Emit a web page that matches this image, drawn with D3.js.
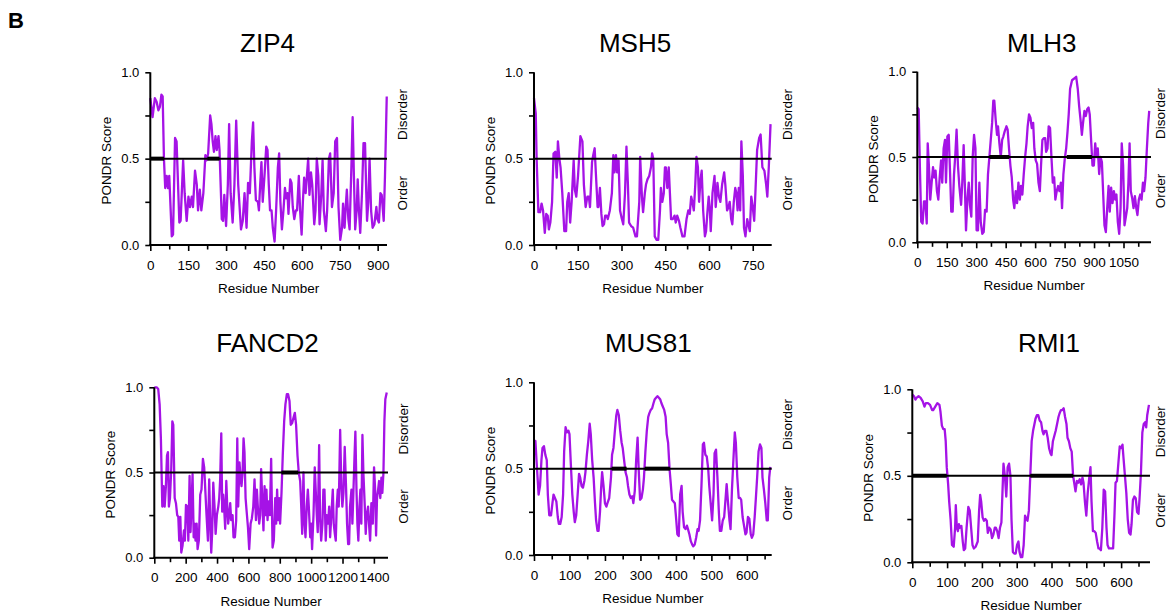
<!DOCTYPE html>
<html><head><meta charset="utf-8">
<script src="https://cdn.jsdelivr.net/npm/d3@7"></script>
<style>
html,body{margin:0;padding:0;background:#fff;}
svg{display:block;font-family:"Liberation Sans",Arial,sans-serif;}
</style></head>
<body>
<svg id="chart" width="1170" height="615"></svg>
<script>
// ---------------- DATA ----------------
const proteinNames = ["ZIP4", "MSH5", "MLH3", "FANCD2", "MUS81", "RMI1"];
const proteinLengths = [937, 815, 1190, 1490, 670, 683];
const xLabelStep = [150, 150, 150, 200, 100, 100];
const xMinorStep = [75, 75, 75, 100, 50, 50];
const yTickValues = [0, 0.25, 0.5, 0.75, 1.0];
const yTickLabels = ["0.0", "", "0.5", "", "1.0"];
const threshold = 0.5;

const zip4 = [[0,.85],[9,.74],[18,.85],[25,.83],[32,.78],[38,.80],[44,.87],[49,.86],[54,.50],[59,.33],[65,.40],[70,.33],[75,.40],[85,.05],[90,.06],[98,.62],[104,.60],[115,.13],[120,.14],[130,.49],[136,.30],[144,.14],[151,.28],[157,.22],[164,.28],[169,.22],[177,.43],[184,.35],[189,.20],[196,.32],[202,.20],[210,.30],[218,.52],[223,.49],[229,.53],[237,.75],[242,.70],[247,.60],[252,.54],[258,.63],[263,.55],[270,.63],[274,.55],[283,.15],[288,.14],[293,.29],[300,.11],[307,.35],[312,.70],[318,.30],[326,.13],[333,.35],[340,.72],[348,.35],[359,.09],[366,.14],[373,.30],[381,.10],[387,.36],[394,.30],[402,.60],[407,.71],[412,.45],[418,.26],[426,.25],[430,.20],[435,.35],[440,.48],[445,.25],[452,.40],[459,.57],[464,.55],[469,.35],[474,.20],[480,.20],[485,.10],[492,.02],[498,.20],[505,.45],[510,.53],[515,.25],[521,.09],[527,.20],[533,.33],[538,.27],[543,.30],[547,.18],[554,.38],[559,.36],[564,.22],[570,.15],[576,.20],[581,.20],[588,.40],[593,.20],[599,.06],[604,.25],[609,.39],[615,.30],[620,.40],[625,.50],[630,.29],[636,.42],[641,.35],[649,.12],[654,.20],[659,.50],[665,.40],[670,.12],[677,.30],[682,.49],[687,.20],[695,.08],[700,.20],[707,.50],[712,.53],[719,.22],[726,.30],[732,.60],[739,.62],[745,.22],[752,.03],[759,.10],[763,.24],[769,.10],[774,.23],[778,.32],[784,.15],[789,.09],[796,.45],[801,.74],[806,.40],[811,.09],[817,.20],[821,.38],[826,.20],[831,.07],[838,.30],[844,.59],[850,.59],[855,.30],[858,.14],[863,.25],[868,.50],[874,.20],[880,.10],[887,.12],[895,.22],[899,.15],[905,.13],[911,.30],[916,.29],[924,.14],[929,.40],[936,.86]];

const msh5 = [[0,.85],[6,.76],[9,.50],[15,.19],[21,.19],[26,.24],[31,.20],[37,.07],[42,.18],[47,.17],[51,.09],[56,.13],[62,.25],[67,.53],[73,.54],[78,.39],[82,.60],[87,.50],[91,.45],[97,.30],[104,.08],[110,.08],[114,.25],[119,.30],[124,.13],[129,.25],[136,.49],[140,.32],[145,.28],[151,.40],[159,.63],[166,.60],[171,.35],[177,.22],[183,.28],[188,.28],[192,.22],[199,.48],[203,.52],[208,.56],[212,.42],[218,.22],[221,.22],[226,.33],[231,.18],[235,.11],[240,.12],[244,.17],[249,.17],[253,.15],[260,.20],[267,.30],[272,.52],[276,.42],[281,.52],[285,.42],[290,.49],[295,.20],[300,.16],[306,.12],[312,.30],[317,.57],[322,.35],[326,.13],[333,.11],[340,.10],[348,.05],[353,.05],[361,.25],[364,.51],[370,.28],[374,.19],[380,.30],[384,.35],[389,.38],[395,.40],[401,.45],[405,.53],[409,.50],[414,.05],[420,.03],[426,.03],[432,.20],[435,.33],[440,.25],[445,.30],[449,.45],[452,.45],[457,.33],[462,.45],[466,.30],[470,.15],[476,.15],[482,.17],[486,.13],[491,.17],[497,.14],[502,.10],[509,.05],[516,.05],[523,.15],[529,.20],[534,.18],[539,.28],[543,.25],[548,.20],[553,.35],[557,.51],[562,.45],[566,.25],[571,.38],[575,.43],[580,.20],[586,.05],[590,.08],[595,.20],[599,.28],[603,.20],[606,.08],[612,.30],[619,.40],[623,.22],[629,.36],[634,.28],[639,.25],[645,.35],[652,.42],[656,.35],[662,.20],[667,.22],[671,.25],[676,.15],[680,.12],[685,.25],[690,.33],[694,.30],[698,.20],[702,.33],[707,.20],[711,.60],[716,.40],[720,.10],[725,.05],[731,.15],[735,.12],[740,.08],[745,.28],[750,.22],[755,.14],[759,.30],[765,.55],[772,.62],[777,.64],[783,.45],[790,.43],[796,.35],[800,.28],[805,.45],[811,.70]];

const mlh3 = [[0,.79],[7,.78],[14,.40],[20,.12],[27,.11],[34,.24],[41,.24],[48,.11],[53,.58],[59,.45],[66,.25],[73,.35],[80,.44],[87,.38],[93,.42],[100,.30],[107,.25],[114,.38],[121,.48],[127,.35],[134,.55],[141,.60],[146,.35],[153,.62],[160,.63],[167,.40],[173,.18],[180,.18],[187,.40],[194,.52],[200,.66],[207,.45],[214,.33],[223,.22],[229,.35],[236,.57],[243,.30],[248,.07],[255,.25],[262,.35],[268,.22],[275,.15],[282,.50],[289,.63],[296,.55],[302,.07],[309,.07],[316,.35],[323,.12],[331,.05],[338,.06],[345,.19],[353,.18],[360,.40],[367,.50],[374,.60],[381,.70],[387,.83],[392,.83],[399,.72],[406,.63],[411,.68],[418,.58],[425,.50],[432,.60],[438,.62],[445,.65],[454,.68],[460,.66],[467,.55],[474,.45],[481,.38],[488,.25],[494,.20],[501,.30],[508,.23],[515,.35],[522,.25],[528,.33],[535,.28],[542,.40],[549,.50],[556,.58],[562,.68],[569,.75],[576,.73],[583,.67],[590,.70],[596,.55],[603,.48],[610,.46],[617,.35],[624,.30],[630,.45],[637,.60],[644,.61],[651,.61],[656,.53],[663,.55],[669,.68],[676,.67],[683,.50],[690,.35],[697,.38],[703,.25],[710,.30],[717,.33],[724,.30],[731,.35],[737,.20],[744,.40],[751,.49],[758,.55],[765,.65],[771,.75],[778,.90],[788,.95],[799,.96],[809,.97],[817,.90],[824,.80],[831,.72],[838,.63],[844,.70],[851,.77],[858,.74],[865,.78],[872,.79],[878,.75],[885,.60],[892,.45],[899,.45],[906,.58],[912,.50],[919,.55],[926,.40],[933,.50],[940,.47],[946,.30],[953,.10],[960,.06],[967,.20],[974,.33],[980,.18],[987,.32],[994,.23],[1001,.30],[1008,.25],[1014,.28],[1021,.12],[1028,.05],[1035,.20],[1041,.58],[1048,.45],[1055,.10],[1062,.15],[1069,.20],[1075,.35],[1081,.58],[1087,.30],[1094,.26],[1101,.20],[1108,.27],[1115,.20],[1121,.16],[1128,.25],[1135,.28],[1142,.25],[1149,.35],[1155,.30],[1162,.38],[1169,.55],[1176,.70],[1181,.77]];

const fancd2 = [[0,1.0],[15,1.0],[25,.99],[34,.90],[42,.70],[51,.30],[59,.42],[66,.30],[74,.42],[81,.60],[87,.62],[93,.30],[100,.35],[108,.52],[115,.80],[121,.78],[130,.35],[138,.32],[146,.25],[153,.24],[159,.10],[166,.24],[172,.03],[180,.07],[189,.16],[195,.10],[202,.31],[210,.30],[217,.10],[225,.48],[231,.15],[238,.33],[244,.49],[251,.12],[257,.20],[263,.10],[270,.20],[276,.05],[284,.10],[293,.37],[301,.40],[310,.58],[318,.53],[325,.40],[333,.25],[342,.10],[350,.46],[357,.20],[363,.03],[369,.15],[376,.44],[384,.30],[391,.14],[399,.25],[408,.30],[414,.35],[420,.46],[427,.73],[433,.27],[439,.37],[446,.28],[452,.17],[459,.45],[465,.30],[471,.20],[478,.26],[484,.32],[490,.22],[499,.25],[505,.12],[514,.12],[522,.22],[529,.70],[535,.30],[543,.56],[550,.47],[556,.42],[563,.50],[569,.70],[575,.62],[582,.35],[588,.28],[597,.18],[605,.05],[614,.20],[622,.23],[631,.30],[639,.46],[648,.22],[654,.40],[660,.30],[669,.20],[675,.25],[681,.52],[690,.30],[696,.16],[703,.42],[709,.25],[715,.40],[722,.22],[728,.33],[737,.25],[745,.58],[754,.06],[762,.10],[771,.35],[777,.20],[783,.40],[790,.22],[796,.35],[802,.20],[811,.38],[819,.60],[828,.80],[836,.90],[845,.96],[853,.96],[862,.92],[870,.78],[879,.79],[887,.82],[896,.85],[904,.78],[913,.60],[921,.50],[930,.45],[936,.32],[943,.14],[951,.50],[957,.22],[964,.12],[972,.30],[979,.40],[985,.30],[994,.12],[1000,.20],[1006,.05],[1015,.25],[1023,.53],[1030,.38],[1036,.25],[1042,.15],[1051,.66],[1057,.23],[1064,.10],[1072,.20],[1078,.40],[1085,.40],[1093,.10],[1100,.25],[1108,.20],[1115,.30],[1121,.12],[1129,.25],[1138,.40],[1144,.20],[1151,.14],[1157,.10],[1163,.30],[1170,.40],[1176,.30],[1185,.75],[1193,.40],[1199,.30],[1206,.38],[1214,.65],[1223,.40],[1229,.20],[1236,.08],[1242,.08],[1248,.30],[1257,.40],[1263,.20],[1270,.40],[1276,.58],[1282,.74],[1289,.40],[1295,.20],[1301,.10],[1308,.30],[1314,.40],[1320,.20],[1327,.72],[1333,.50],[1342,.30],[1348,.14],[1354,.25],[1363,.30],[1369,.20],[1376,.10],[1384,.32],[1393,.20],[1401,.53],[1408,.40],[1414,.13],[1420,.35],[1427,.40],[1433,.45],[1441,.35],[1448,.47],[1454,.38],[1461,.50],[1467,.80],[1473,.93],[1482,.97]];

const mus81 = [[0,.66],[4,.66],[7,.55],[10,.45],[13,.35],[17,.40],[21,.55],[24,.62],[28,.63],[32,.58],[36,.55],[39,.35],[43,.23],[48,.23],[52,.30],[55,.35],[59,.33],[63,.31],[67,.22],[70,.18],[74,.18],[78,.22],[82,.35],[85,.60],[89,.74],[93,.71],[97,.72],[100,.70],[104,.52],[108,.35],[112,.25],[115,.19],[119,.23],[123,.35],[127,.47],[130,.45],[134,.40],[138,.39],[142,.43],[145,.48],[149,.58],[153,.66],[157,.76],[160,.70],[164,.55],[168,.45],[172,.30],[175,.20],[179,.14],[182,.14],[186,.25],[189,.38],[192,.48],[196,.40],[200,.30],[204,.28],[207,.30],[212,.33],[217,.45],[220,.58],[224,.62],[228,.72],[232,.81],[235,.84],[239,.81],[243,.72],[247,.65],[250,.62],[254,.55],[258,.48],[262,.45],[265,.40],[269,.35],[273,.33],[277,.34],[280,.30],[284,.37],[288,.55],[292,.68],[295,.50],[299,.32],[303,.33],[307,.38],[310,.45],[314,.60],[318,.72],[322,.80],[325,.82],[329,.84],[333,.85],[337,.88],[340,.90],[344,.91],[348,.92],[352,.91],[356,.90],[359,.88],[363,.86],[367,.84],[371,.80],[374,.70],[378,.65],[382,.50],[386,.40],[389,.32],[393,.31],[397,.30],[401,.20],[404,.12],[408,.11],[412,.35],[416,.40],[419,.25],[423,.16],[427,.15],[431,.17],[434,.15],[438,.12],[442,.08],[446,.06],[449,.05],[453,.06],[457,.10],[461,.15],[464,.14],[468,.20],[472,.40],[476,.64],[479,.65],[483,.58],[487,.57],[491,.50],[494,.40],[498,.30],[502,.20],[506,.35],[509,.59],[513,.61],[517,.45],[521,.25],[524,.14],[528,.14],[532,.20],[536,.22],[539,.30],[543,.41],[547,.30],[551,.20],[554,.15],[558,.38],[562,.55],[566,.71],[569,.65],[573,.45],[577,.33],[581,.33],[584,.32],[588,.22],[592,.17],[596,.12],[599,.13],[603,.22],[607,.21],[611,.12],[614,.10],[618,.12],[622,.22],[626,.35],[629,.45],[633,.60],[637,.64],[641,.62],[644,.45],[648,.38],[652,.30],[656,.20],[659,.20],[663,.45],[666,.51]];

const rmi1 = [[0,.97],[5,.96],[9,.94],[12,.95],[18,.96],[24,.95],[30,.93],[35,.90],[39,.92],[45,.92],[51,.91],[57,.88],[60,.88],[66,.90],[72,.92],[78,.91],[81,.87],[85,.79],[89,.77],[93,.77],[96,.70],[99,.55],[103,.45],[106,.35],[110,.25],[114,.10],[119,.09],[123,.20],[125,.33],[128,.20],[131,.18],[134,.22],[137,.20],[141,.21],[145,.12],[148,.07],[152,.08],[156,.20],[161,.32],[165,.30],[169,.20],[173,.10],[177,.08],[182,.09],[188,.12],[192,.30],[195,.39],[198,.35],[202,.26],[206,.24],[210,.25],[214,.24],[217,.17],[221,.20],[225,.19],[229,.14],[233,.16],[237,.20],[240,.20],[244,.18],[248,.14],[252,.20],[256,.23],[259,.40],[262,.57],[266,.50],[270,.38],[274,.55],[278,.57],[282,.50],[285,.25],[289,.06],[293,.05],[297,.05],[301,.10],[305,.12],[308,.06],[312,.03],[316,.03],[320,.10],[324,.27],[328,.25],[331,.24],[335,.30],[339,.50],[343,.70],[347,.76],[351,.80],[354,.83],[358,.85],[362,.85],[366,.82],[370,.81],[374,.76],[377,.74],[381,.76],[385,.76],[389,.72],[393,.66],[397,.63],[400,.62],[404,.70],[408,.73],[412,.76],[416,.80],[420,.84],[423,.86],[427,.88],[431,.88],[435,.89],[439,.84],[443,.80],[446,.72],[450,.70],[454,.66],[458,.64],[462,.50],[466,.45],[469,.41],[473,.47],[477,.46],[481,.48],[485,.45],[489,.49],[492,.46],[496,.35],[500,.27],[504,.40],[508,.48],[512,.55],[515,.35],[519,.18],[523,.18],[527,.17],[531,.12],[535,.08],[538,.08],[542,.07],[546,.20],[550,.42],[554,.41],[558,.20],[561,.10],[565,.08],[569,.08],[573,.08],[577,.08],[581,.28],[584,.46],[588,.47],[592,.57],[596,.67],[600,.66],[604,.68],[607,.60],[611,.50],[615,.40],[619,.25],[623,.17],[627,.16],[630,.22],[634,.36],[638,.38],[642,.37],[646,.29],[650,.28],[653,.37],[657,.52],[661,.75],[665,.80],[669,.81],[672,.78],[675,.85],[680,.91]];

// long predicted disordered regions (thick bars on the 0.5 line)
const zip4Regions = [[0, 54], [226, 274]];
const msh5Regions = [];
const mlh3Regions = [[367, 469], [761, 889]];
const fancd2Regions = [[811, 917]];
const mus81Regions = [[219, 261], [312, 383]];
const rmi1Regions = [[0, 99], [339, 462]];

const seriesList = [zip4, msh5, mlh3, fancd2, mus81, rmi1];
const regionList = [zip4Regions, msh5Regions, mlh3Regions, fancd2Regions, mus81Regions, rmi1Regions];

// ---------------- LAYOUT ----------------
const panels = [
  {left:150.3, right:387,  top:72.3,  bottom:245,   titleX:267.5, titleY:52},
  {left:534,   right:771.7,top:72.3,  bottom:245,   titleX:635,   titleY:52},
  {left:917.3, right:1151, top:71.7,  bottom:242.3, titleX:1041.7,titleY:52},
  {left:154.3, right:388,  top:387.3, bottom:557.7, titleX:267.5, titleY:352},
  {left:534,   right:771.7,top:382.3, bottom:555,   titleX:648.3, titleY:352},
  {left:912.3, right:1150, top:389.3, bottom:562.3, titleX:1049,  titleY:352}
];
const lineColor = "#a513e6";
const FONT = '"Liberation Sans",Arial,sans-serif';

const svg = d3.select("#chart");

svg.append("text").attr("x", 8).attr("y", 28)
  .attr("font-size", 22).attr("font-weight", "bold").attr("fill", "#000").text("B");

panels.forEach((p, i) => {
  const g = svg.append("g");
  const x = d3.scaleLinear().domain([0, proteinLengths[i]]).range([p.left, p.right]);
  const y = d3.scaleLinear().domain([0, 1]).range([p.bottom, p.top]);

  // title
  g.append("text").attr("x", p.titleX).attr("y", p.titleY)
    .attr("text-anchor", "middle").attr("font-size", 26).attr("fill", "#000")
    .text(proteinNames[i]);

  // data line
  const line = d3.line().x(d => x(d[0])).y(d => y(d[1]));
  g.append("path").datum(seriesList[i])
    .attr("fill", "none").attr("stroke", lineColor).attr("stroke-width", 2.3)
    .attr("stroke-linejoin", "round").attr("d", line);

  // threshold line
  g.append("line").attr("x1", p.left).attr("x2", p.right)
    .attr("y1", y(threshold)).attr("y2", y(threshold))
    .attr("stroke", "#000").attr("stroke-width", 2);
  // disordered region bars
  g.selectAll(".reg").data(regionList[i]).enter().append("line")
    .attr("x1", d => x(d[0])).attr("x2", d => x(d[1]))
    .attr("y1", y(threshold)).attr("y2", y(threshold))
    .attr("stroke", "#000").attr("stroke-width", 4);

  // x axis: minor ticks (unlabeled) then labeled major ticks
  const xMinor = d3.range(0, proteinLengths[i] + 1, xMinorStep[i]).filter(v => v % xLabelStep[i] !== 0);
  const xMajor = d3.range(0, proteinLengths[i] + 1, xLabelStep[i]);
  const gxm = g.append("g").attr("transform", `translate(0,${p.bottom})`)
    .call(d3.axisBottom(x).tickValues(xMinor).tickSize(4.5).tickSizeOuter(0).tickFormat(""));
  gxm.select(".domain").remove();
  gxm.selectAll(".tick line").attr("stroke-width", 1.6);
  const gx = g.append("g").attr("transform", `translate(0,${p.bottom})`)
    .call(d3.axisBottom(x).tickValues(xMajor).tickSize(6).tickSizeOuter(0).tickPadding(9)
      .tickFormat(d3.format("d")));
  gx.select(".domain").attr("stroke-width", 2).attr("d", `M${p.left - 1},0H${p.right}`);
  gx.selectAll(".tick line").attr("stroke-width", 1.6);
  gx.selectAll(".tick text").attr("font-size", 13.5).attr("fill", "#000").attr("font-family", FONT);

  // y axis
  const yAxis = d3.axisLeft(y).tickValues(yTickValues).tickSize(5).tickSizeOuter(0).tickPadding(6)
    .tickFormat((v, k) => yTickLabels[k]);
  const gy = g.append("g").attr("transform", `translate(${p.left},0)`).call(yAxis);
  gy.select(".domain").attr("stroke-width", 2).attr("d", `M0,${p.top}V${p.bottom + 1}`);
  gy.selectAll(".tick line").attr("stroke-width", 1.6);
  gy.selectAll(".tick text").attr("font-size", 13).attr("fill", "#000").attr("font-family", FONT);

  // axis titles
  g.append("text").attr("transform", `translate(${p.left - 39.5},${(p.top + p.bottom) / 2 + 2}) rotate(-90)`)
    .attr("text-anchor", "middle").attr("font-size", 13.5).attr("fill", "#000").text("PONDR Score");
  g.append("text").attr("x", (p.left + p.right) / 2).attr("y", p.bottom + 48)
    .attr("text-anchor", "middle").attr("font-size", 13.5).attr("fill", "#000").text("Residue Number");
  const sideX = Math.min(p.right + 20, 1165);
  g.append("text").attr("transform", `translate(${sideX},${y(0.755)}) rotate(-90)`)
    .attr("text-anchor", "middle").attr("font-size", 13.5).attr("fill", "#000").text("Disorder");
  g.append("text").attr("transform", `translate(${sideX},${y(0.30)}) rotate(-90)`)
    .attr("text-anchor", "middle").attr("font-size", 13.5).attr("fill", "#000").text("Order");
});
</script>
</body></html>
